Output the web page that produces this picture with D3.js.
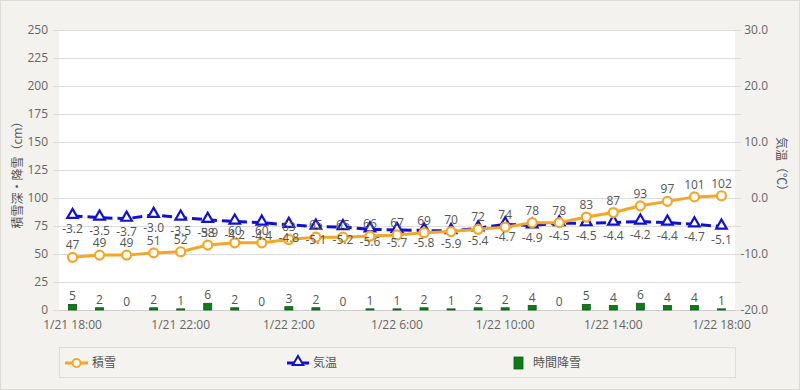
<!DOCTYPE html>
<meta charset="utf-8">
<style>
    body {
        margin: 0;
        background: #fff;
    }

    text {
        font-family: "Open Sans", "Noto Sans CJK JP", sans-serif;
        fill: #555;
    }

    .grid line {
        stroke: #dcdcdc;
    }

    .axis text {
        font-size: 12px;
        fill: #666;
    }

    .lbl {
        font-size: 12px;
        text-anchor: middle;
    }
</style>
<svg width="800" height="390"></svg>
<script src="https://d3js.org/d3.v7.min.js"></script>
<script>
    // hourly observation times
    var times = ["1/21 18:00", "1/21 19:00", "1/21 20:00", "1/21 21:00", "1/21 22:00", "1/21 23:00",
        "1/22 0:00", "1/22 1:00", "1/22 2:00", "1/22 3:00", "1/22 4:00", "1/22 5:00",
        "1/22 6:00", "1/22 7:00", "1/22 8:00", "1/22 9:00", "1/22 10:00", "1/22 11:00",
        "1/22 12:00", "1/22 13:00", "1/22 14:00", "1/22 15:00", "1/22 16:00", "1/22 17:00", "1/22 18:00"];

    var xTicks = ["1/21 18:00", "1/21 22:00", "1/22 2:00", "1/22 6:00", "1/22 10:00", "1/22 14:00", "1/22 18:00"];

    // 積雪 (cm)
    var snowDepth = [47, 49, 49, 51, 52, 58, 60, 60, 63, 65, 65, 66, 67, 69, 70, 72, 74, 78, 78, 83, 87, 93, 97, 101, 102];

    // 気温 (°C)
    var temp = [-3.2, -3.5, -3.7, -3.0, -3.5, -3.9, -4.2, -4.4, -4.8, -5.1, -5.2, -5.6, -5.7, -5.8, -5.9, -5.4, -4.7, -4.9, -4.5, -4.5, -4.4, -4.2, -4.4, -4.7, -5.1];

    // 時間降雪 (cm)
    var snowfall = [5, 2, 0, 2, 1, 6, 2, 0, 3, 2, 0, 1, 1, 2, 1, 2, 2, 4, 0, 5, 4, 6, 4, 4, 1];

    var leftTicks = [0, 25, 50, 75, 100, 125, 150, 175, 200, 225, 250];
    var rightTicks = [-20, -10, 0, 10, 20, 30];

    var svg = d3.select("svg"),
        width = +svg.attr("width"),
        height = +svg.attr("height");

    var plotL = 59, plotR = 735, plotT = 30, plotB = 310;

    var orange = "#f5a623",
        blue = "#1010d8",
        green = "#0b7d16";

    svg.append("rect")
        .attr("x", 0.5).attr("y", 0.5)
        .attr("width", width - 1).attr("height", height - 1)
        .attr("fill", "#f3f2ee")
        .attr("stroke", "#dedcd6");

    svg.append("rect")
        .attr("x", plotL).attr("y", plotT)
        .attr("width", plotR - plotL).attr("height", plotB - plotT)
        .attr("fill", "#fff");

    var x = d3.scaleBand().domain(times).range([plotL, plotR]);
    var yL = d3.scaleLinear().domain([0, 250]).range([plotB, plotT]);
    var yR = d3.scaleLinear().domain([-20, 30]).range([plotB, plotT]);

    function cx(d, i) {
        return x(times[i]) + x.bandwidth() / 2;
    }

    // gridlines + axes
    svg.append("g")
        .attr("class", "grid")
        .selectAll("line")
        .data(leftTicks)
        .enter().append("line")
        .attr("x1", plotL - 6)
        .attr("x2", plotR + 6)
        .attr("y1", function(d) { return Math.round(yL(d)) + 0.5; })
        .attr("y2", function(d) { return Math.round(yL(d)) + 0.5; });

    var axL = svg.append("g")
        .attr("class", "axis")
        .attr("transform", "translate(" + plotL + ",0)")
        .call(d3.axisLeft(yL).tickValues(leftTicks).tickSize(0).tickPadding(11));
    axL.select(".domain").remove();

    var axR = svg.append("g")
        .attr("class", "axis")
        .attr("transform", "translate(" + plotR + ",0)")
        .call(d3.axisRight(yR).tickValues(rightTicks).tickSize(0).tickPadding(33)
            .tickFormat(function(d) { return d.toFixed(1); }));
    axR.select(".domain").remove();
    axR.selectAll("text").attr("text-anchor", "end");

    var axB = svg.append("g")
        .attr("class", "axis")
        .attr("transform", "translate(0," + plotB + ")")
        .call(d3.axisBottom(x).tickValues(xTicks).tickSize(0).tickPadding(10));
    axB.select(".domain").attr("stroke", "#ccc");

    // axis titles
    svg.append("text")
        .attr("transform", "translate(22,172) rotate(-90)")
        .attr("text-anchor", "middle")
        .style("font-size", "12px")
        .text("積雪深・降雪（cm）");

    svg.append("text")
        .attr("transform", "translate(777,167) rotate(90)")
        .attr("text-anchor", "middle")
        .style("font-size", "12px")
        .text("気温（℃）");

    // bars
    var bw = 8;
    svg.append("g")
        .selectAll("rect")
        .data(snowfall)
        .enter().append("rect")
        .attr("x", function(d, i) { return cx(d, i) - bw / 2; })
        .attr("y", function(d) { return yL(d); })
        .attr("width", bw)
        .attr("height", function(d) { return yL(0) - yL(d); })
        .attr("fill", green)
        .attr("stroke", "#0a5a10")
        .attr("stroke-width", 0.8);

    svg.append("g")
        .selectAll("text")
        .data(snowfall)
        .enter().append("text")
        .attr("class", "lbl")
        .attr("x", cx)
        .attr("y", function(d) { return yL(d) - 4; })
        .text(function(d) { return d; });

    // temperature line
    var tLine = d3.line()
        .x(function(d, i) { return cx(d, i); })
        .y(function(d) { return yR(d); });

    svg.append("path")
        .datum(temp)
        .attr("d", tLine)
        .attr("fill", "none")
        .attr("stroke", blue)
        .attr("stroke-width", 3)
        .attr("stroke-dasharray", "10,5");

    var tri = d3.symbol().type(d3.symbolTriangle).size(48);
    svg.append("g")
        .selectAll("path")
        .data(temp)
        .enter().append("path")
        .attr("d", tri)
        .attr("transform", function(d, i) { return "translate(" + cx(d, i) + "," + (yR(d) - 1) + ")"; })
        .attr("fill", "#fff")
        .attr("stroke", blue)
        .attr("stroke-width", 2.2);

    // snow depth line
    var sLine = d3.line()
        .x(function(d, i) { return cx(d, i); })
        .y(function(d) { return yL(d); });

    svg.append("path")
        .datum(snowDepth)
        .attr("d", sLine)
        .attr("fill", "none")
        .attr("stroke", orange)
        .attr("stroke-width", 3);

    svg.append("g")
        .selectAll("circle")
        .data(snowDepth)
        .enter().append("circle")
        .attr("cx", cx)
        .attr("cy", function(d) { return yL(d); })
        .attr("r", 4.5)
        .attr("fill", "#fff")
        .attr("stroke", orange)
        .attr("stroke-width", 2.2);

    // labels
    svg.append("g")
        .selectAll("text")
        .data(temp)
        .enter().append("text")
        .attr("class", "lbl")
        .attr("x", cx)
        .attr("y", function(d) { return yR(d) + 17; })
        .text(function(d) { return d.toFixed(1); });

    svg.append("g")
        .selectAll("text")
        .data(snowDepth)
        .enter().append("text")
        .attr("class", "lbl")
        .attr("x", cx)
        .attr("y", function(d) { return yL(d) - 8; })
        .text(function(d) { return d; });

    // legend
    var lg = svg.append("g");
    lg.append("rect")
        .attr("x", 59.5).attr("y", 347.5)
        .attr("width", 676).attr("height", 30)
        .attr("fill", "#f4f3ef")
        .attr("stroke", "#dcdcdc");

    var ly = 363;
    lg.append("line").attr("x1", 65).attr("x2", 88).attr("y1", ly).attr("y2", ly)
        .attr("stroke", orange).attr("stroke-width", 3);
    lg.append("circle").attr("cx", 76.5).attr("cy", ly).attr("r", 4)
        .attr("fill", "#fff").attr("stroke", orange).attr("stroke-width", 2);
    lg.append("text").attr("x", 92).attr("y", ly + 4).style("font-size", "12px").text("積雪");

    lg.append("line").attr("x1", 287).attr("x2", 309).attr("y1", ly).attr("y2", ly)
        .attr("stroke", blue).attr("stroke-width", 3);
    lg.append("path").attr("d", tri)
        .attr("transform", "translate(298," + (ly - 1) + ")")
        .attr("fill", "#fff").attr("stroke", blue).attr("stroke-width", 2);
    lg.append("text").attr("x", 313).attr("y", ly + 4).style("font-size", "12px").text("気温");

    lg.append("rect").attr("x", 514).attr("y", ly - 6).attr("width", 9).attr("height", 12)
        .attr("fill", green).attr("stroke", "#0a5a10").attr("stroke-width", 0.8);
    lg.append("text").attr("x", 533).attr("y", ly + 4).style("font-size", "12px").text("時間降雪");
</script>
